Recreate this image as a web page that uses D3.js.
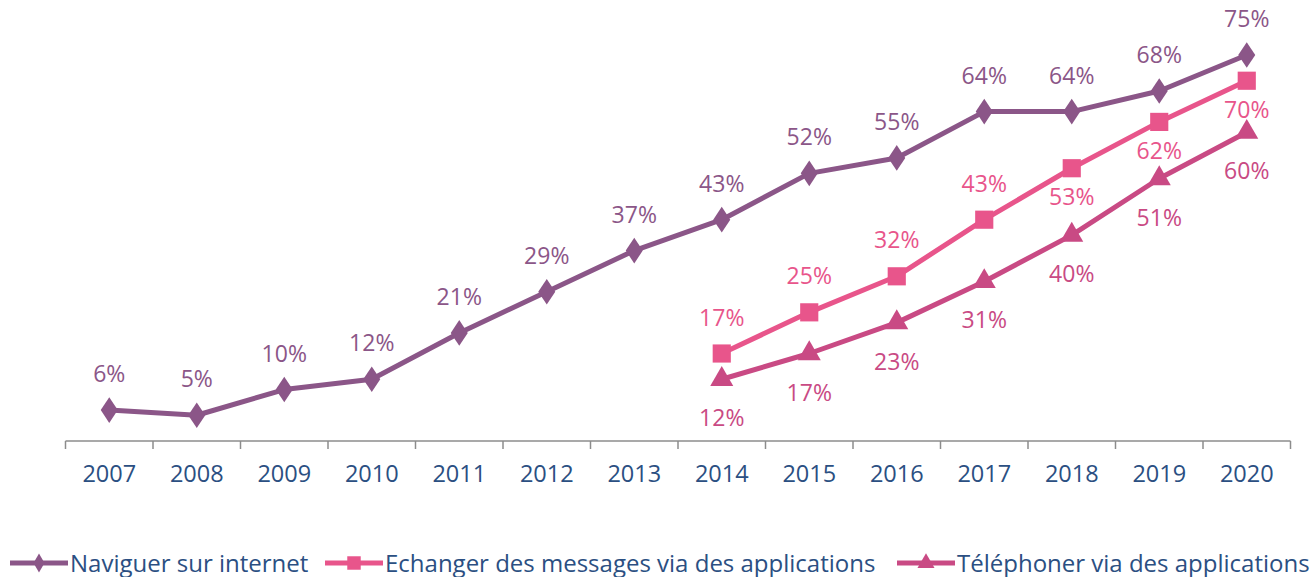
<!DOCTYPE html>
<html lang="fr">
<head>
    <meta charset="UTF-8">
    <title>Usages mobiles</title>
    <style>
        body { margin: 0; background: #fff; }
        svg text { font-family: 'Open Sans', sans-serif; }
    </style>
    <script src="https://d3js.org/d3.v7.min.js"></script>
</head>
<body>
    <svg width="1316" height="577"></svg>
    <script>
        const years = ["2007", "2008", "2009", "2010", "2011", "2012", "2013", "2014", "2015", "2016", "2017", "2018", "2019", "2020"];
        const naviguer = [6, 5, 10, 12, 21, 29, 37, 43, 52, 55, 64, 64, 68, 75];
        const messages = [null, null, null, null, null, null, null, 17, 25, 32, 43, 53, 62, 70];
        const telephoner = [null, null, null, null, null, null, null, 12, 17, 23, 31, 40, 51, 60];
        const seriesNames = ["Naviguer sur internet", "Echanger des messages via des applications", "Téléphoner via des applications"];

        const width = 1316, height = 577;
        const svg = d3.select("svg");

        const x = d3.scaleBand().domain(years).range([65.5, 1290.5]);
        const y = d3.scaleLinear().domain([0, 75]).range([441, 55]);

        const series = [
            { name: seriesNames[0], values: naviguer, color: "#8b5688", symbol: d3.symbolDiamond, size: 190, label: "above" },
            { name: seriesNames[1], values: messages, color: "#e8558b", symbol: d3.symbolSquare, size: 330, label: "pink" },
            { name: seriesNames[2], values: telephoner, color: "#c94a84", symbol: d3.symbolTriangle, size: 230, label: "below" }
        ];

        // axe
        const axis = svg.append("g")
            .attr("transform", `translate(0,441)`);
        axis.append("line")
            .attr("x1", x.range()[0]).attr("x2", x.range()[1])
            .attr("stroke", "#8c8c8c").attr("stroke-width", 1.5);
        const bounds = years.map(d => x(d)).concat([x.range()[1]]);
        axis.selectAll("line.tick").data(bounds).enter().append("line")
            .attr("class", "tick")
            .attr("x1", d => d).attr("x2", d => d)
            .attr("y1", 0).attr("y2", 8)
            .attr("stroke", "#8c8c8c").attr("stroke-width", 1.5);
        axis.selectAll("text").data(years).enter().append("text")
            .attr("x", d => x(d) + x.bandwidth() / 2)
            .attr("y", 41)
            .attr("text-anchor", "middle")
            .style("font-size", "23.5px")
            .style("fill", "#2b4f82")
            .text(d => d);

        const cx = d => x(d) + x.bandwidth() / 2;

        series.forEach(s => {
            const pts = years.map((yr, i) => ({ yr, v: s.values[i], i })).filter(p => p.v !== null);
            const line = d3.line().x(p => cx(p.yr)).y(p => y(p.v));
            svg.append("path")
                .datum(pts)
                .attr("d", line)
                .attr("fill", "none")
                .attr("stroke", s.color)
                .attr("stroke-width", 5)
                .attr("stroke-linejoin", "round");

            svg.append("g").selectAll("path").data(pts).enter().append("path")
                .attr("d", d3.symbol().type(s.symbol).size(s.size))
                .attr("transform", p => `translate(${cx(p.yr)},${y(p.v)})` + (s.symbol === d3.symbolDiamond ? " scale(1.15,1)" : ""))
                .attr("fill", s.color);

            svg.append("g").selectAll("text").data(pts).enter().append("text")
                .attr("x", p => cx(p.yr))
                .attr("y", p => {
                    if (s.label === "below") return y(p.v) + 47;
                    const below = s.label === "pink" && p.i >= 11;
                    return below ? y(p.v) + 37 : y(p.v) - 28;
                })
                .attr("text-anchor", "middle")
                .style("font-size", "23px")
                .style("fill", s.color)
                .text(p => p.v + "%");
        });

        // légende
        const legendX = [10, 325, 897];
        const legend = svg.append("g").attr("transform", "translate(0,563)");
        series.forEach((s, i) => {
            const g = legend.append("g").attr("transform", `translate(${legendX[i]},0)`);
            g.append("line").attr("x1", 0).attr("x2", 58)
                .attr("stroke", s.color).attr("stroke-width", 5);
            g.append("path")
                .attr("d", d3.symbol().type(s.symbol).size(s.size * 0.55))
                .attr("transform", `translate(29,0)`)
                .attr("fill", s.color);
            g.append("text")
                .attr("x", 60).attr("y", 8.5)
                .style("font-size", "24px")
                .style("fill", "#2b4f82")
                .text(s.name);
        });
    </script>
</body>
</html>
